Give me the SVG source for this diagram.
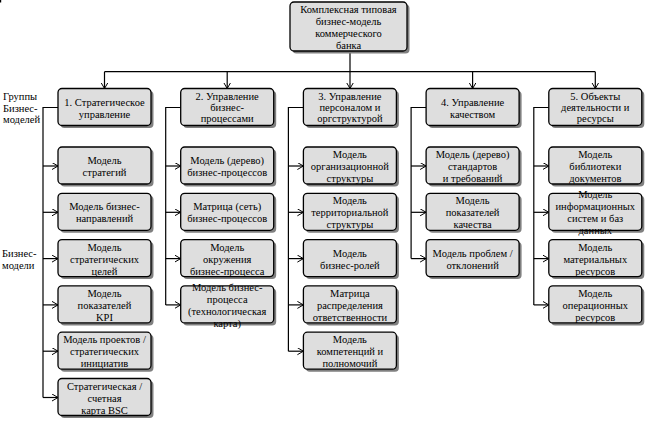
<svg xmlns="http://www.w3.org/2000/svg" width="646" height="422" viewBox="0 0 646 422" font-family="'Liberation Serif', 'DejaVu Serif', serif" font-size="10.5">
<style>
.sh{fill:#808080}
.bx{fill:#dedede;stroke:#000;stroke-width:1.3}
text{fill:#000}
.c{text-anchor:middle}
.ln{fill:none;stroke:#000;stroke-width:1.2}
</style>
<defs>
<marker id="a" markerWidth="8" markerHeight="8" refX="6" refY="3.5" orient="auto" markerUnits="userSpaceOnUse"><path d="M0,0 L6,3.5 L0,7" fill="none" stroke="#000" stroke-width="1"/></marker>
<symbol id="b" viewBox="0 0 96 40" width="96" height="40" overflow="visible"><rect class="sh" x="2.5" y="2.5" width="93" height="37" rx="4"/><rect class="bx" x="0" y="0" width="93" height="37" rx="4"/></symbol>
</defs>
<rect x="0" y="0" width="1.2" height="2.5" fill="#000"/>
<g id="connectors">
<path class="ln" d="M350,51 V71.7 M104.5,71.7 H595.3"/>
<path class="ln" marker-end="url(#a)" d="M104.5,71.7 V88.5"/>
<path class="ln" marker-end="url(#a)" d="M227.2,71.7 V88.5"/>
<path class="ln" marker-end="url(#a)" d="M350,71.7 V88.5"/>
<path class="ln" marker-end="url(#a)" d="M472.6,71.7 V88.5"/>
<path class="ln" marker-end="url(#a)" d="M595.3,71.7 V88.5"/>
<path class="ln" d="M58,107.5 H43 V397.5"/>
<path class="ln" marker-end="url(#a)" d="M43,166 H58"/>
<path class="ln" marker-end="url(#a)" d="M43,212.3 H58"/>
<path class="ln" marker-end="url(#a)" d="M43,258.6 H58"/>
<path class="ln" marker-end="url(#a)" d="M43,304.9 H58"/>
<path class="ln" marker-end="url(#a)" d="M43,351.2 H58"/>
<path class="ln" marker-end="url(#a)" d="M43,397.5 H58"/>
<path class="ln" d="M180.7,107.5 H165.7 V304.9"/>
<path class="ln" marker-end="url(#a)" d="M165.7,166 H180.7"/>
<path class="ln" marker-end="url(#a)" d="M165.7,212.3 H180.7"/>
<path class="ln" marker-end="url(#a)" d="M165.7,258.6 H180.7"/>
<path class="ln" marker-end="url(#a)" d="M165.7,304.9 H180.7"/>
<path class="ln" d="M303.4,107.5 H288.4 V351.2"/>
<path class="ln" marker-end="url(#a)" d="M288.4,166 H303.4"/>
<path class="ln" marker-end="url(#a)" d="M288.4,212.3 H303.4"/>
<path class="ln" marker-end="url(#a)" d="M288.4,258.6 H303.4"/>
<path class="ln" marker-end="url(#a)" d="M288.4,304.9 H303.4"/>
<path class="ln" marker-end="url(#a)" d="M288.4,351.2 H303.4"/>
<path class="ln" d="M426.1,107.5 H411.1 V258.6"/>
<path class="ln" marker-end="url(#a)" d="M411.1,166 H426.1"/>
<path class="ln" marker-end="url(#a)" d="M411.1,212.3 H426.1"/>
<path class="ln" marker-end="url(#a)" d="M411.1,258.6 H426.1"/>
<path class="ln" d="M548.8,107.5 H533.8 V304.9"/>
<path class="ln" marker-end="url(#a)" d="M533.8,166 H548.8"/>
<path class="ln" marker-end="url(#a)" d="M533.8,212.3 H548.8"/>
<path class="ln" marker-end="url(#a)" d="M533.8,258.6 H548.8"/>
<path class="ln" marker-end="url(#a)" d="M533.8,304.9 H548.8"/>
</g>
<g id="labels">
<text x="3" y="100">Группы</text>
<text x="3" y="111.5">Бизнес-</text>
<text x="3" y="122.5">моделей</text>
<text x="2" y="257">Бизнес-</text>
<text x="2" y="268.5">модели</text>
</g>
<g id="root">
<rect class="sh" x="292.5" y="4.5" width="117" height="49" rx="4"/>
<rect class="bx" x="290" y="2" width="117" height="49" rx="4"/>
<text class="c" x="348.5" y="12.5">Комплексная типовая</text>
<text class="c" x="348.5" y="24.5">бизнес-модель</text>
<text class="c" x="348.5" y="36.5">коммерческого</text>
<text class="c" x="348.5" y="48.5">банка</text>
</g>
<g id="g1"><use href="#b" x="58" y="88.5"/><text class="c" x="104.5" y="105.5">1. Стратегическое</text><text class="c" x="104.5" y="117.5">управление</text></g>
<g id="g2"><use href="#b" x="180.7" y="88.5"/><text class="c" x="227.2" y="100">2. Управление</text><text class="c" x="227.2" y="111">бизнес-</text><text class="c" x="227.2" y="122">процессами</text></g>
<g id="g3"><use href="#b" x="303.4" y="88.5"/><text class="c" x="349.9" y="100">3. Управление</text><text class="c" x="349.9" y="111">персоналом и</text><text class="c" x="349.9" y="122">оргструктурой</text></g>
<g id="g4"><use href="#b" x="426.1" y="88.5"/><text class="c" x="472.6" y="105.5">4. Управление</text><text class="c" x="472.6" y="117.5">качеством</text></g>
<g id="g5"><use href="#b" x="548.8" y="88.5"/><text class="c" x="595.3" y="100">5. Объекты</text><text class="c" x="595.3" y="111">деятельности и</text><text class="c" x="595.3" y="122">ресурсы</text></g>

<g id="m1-1"><use href="#b" x="58" y="147"/><text class="c" x="104.5" y="164">Модель</text><text class="c" x="104.5" y="176">стратегий</text></g>
<g id="m1-2"><use href="#b" x="58" y="193.3"/><text class="c" x="104.5" y="210.3">Модель бизнес-</text><text class="c" x="104.5" y="222.3">направлений</text></g>
<g id="m1-3"><use href="#b" x="58" y="239.6"/><text class="c" x="104.5" y="250.6">Модель</text><text class="c" x="104.5" y="262.6">стратегических</text><text class="c" x="104.5" y="274.6">целей</text></g>
<g id="m1-4"><use href="#b" x="58" y="285.9"/><text class="c" x="104.5" y="296.9">Модель</text><text class="c" x="104.5" y="308.9">показателей</text><text class="c" x="104.5" y="320.9">KPI</text></g>
<g id="m1-5"><use href="#b" x="58" y="332.2"/><text class="c" x="104.5" y="343.2">Модель проектов /</text><text class="c" x="104.5" y="355.2">стратегических</text><text class="c" x="104.5" y="367.2">инициатив</text></g>
<g id="m1-6"><use href="#b" x="58" y="378.5"/><text class="c" x="104.5" y="389.5">Стратегическая /</text><text class="c" x="104.5" y="401.5">счетная</text><text class="c" x="104.5" y="413.5">карта BSC</text></g>

<g id="m2-1"><use href="#b" x="180.7" y="147"/><text class="c" x="227.2" y="164">Модель (дерево)</text><text class="c" x="227.2" y="176">бизнес-процессов</text></g>
<g id="m2-2"><use href="#b" x="180.7" y="193.3"/><text class="c" x="227.2" y="210.3">Матрица (сеть)</text><text class="c" x="227.2" y="222.3">бизнес-процессов</text></g>
<g id="m2-3"><use href="#b" x="180.7" y="239.6"/><text class="c" x="227.2" y="250.6">Модель</text><text class="c" x="227.2" y="262.6">окружения</text><text class="c" x="227.2" y="274.6">бизнес-процесса</text></g>
<g id="m2-4"><use href="#b" x="180.7" y="285.9"/><text class="c" x="227.2" y="290.9">Модель бизнес-</text><text class="c" x="227.2" y="302.9">процесса</text><text class="c" x="227.2" y="314.9">(технологическая</text><text class="c" x="227.2" y="326.9">карта)</text></g>

<g id="m3-1"><use href="#b" x="303.4" y="147"/><text class="c" x="349.9" y="158">Модель</text><text class="c" x="349.9" y="170">организационной</text><text class="c" x="349.9" y="182">структуры</text></g>
<g id="m3-2"><use href="#b" x="303.4" y="193.3"/><text class="c" x="349.9" y="204.3">Модель</text><text class="c" x="349.9" y="216.3">территориальной</text><text class="c" x="349.9" y="228.3">структуры</text></g>
<g id="m3-3"><use href="#b" x="303.4" y="239.6"/><text class="c" x="349.9" y="256.6">Модель</text><text class="c" x="349.9" y="268.6">бизнес-ролей</text></g>
<g id="m3-4"><use href="#b" x="303.4" y="285.9"/><text class="c" x="349.9" y="296.9">Матрица</text><text class="c" x="349.9" y="308.9">распределения</text><text class="c" x="349.9" y="320.9">ответственности</text></g>
<g id="m3-5"><use href="#b" x="303.4" y="332.2"/><text class="c" x="349.9" y="343.2">Модель</text><text class="c" x="349.9" y="355.2">компетенций и</text><text class="c" x="349.9" y="367.2">полномочий</text></g>

<g id="m4-1"><use href="#b" x="426.1" y="147"/><text class="c" x="472.6" y="158">Модель (дерево)</text><text class="c" x="472.6" y="170">стандартов</text><text class="c" x="472.6" y="182">и требований</text></g>
<g id="m4-2"><use href="#b" x="426.1" y="193.3"/><text class="c" x="472.6" y="204.3">Модель</text><text class="c" x="472.6" y="216.3">показателей</text><text class="c" x="472.6" y="228.3">качества</text></g>
<g id="m4-3"><use href="#b" x="426.1" y="239.6"/><text class="c" x="472.6" y="256.6">Модель проблем /</text><text class="c" x="472.6" y="268.6">отклонений</text></g>

<g id="m5-1"><use href="#b" x="548.8" y="147"/><text class="c" x="595.3" y="158">Модель</text><text class="c" x="595.3" y="170">библиотеки</text><text class="c" x="595.3" y="182">документов</text></g>
<g id="m5-2"><use href="#b" x="548.8" y="193.3"/><text class="c" x="595.3" y="198.3">Модель</text><text class="c" x="595.3" y="210.3">информационных</text><text class="c" x="595.3" y="222.3">систем и баз</text><text class="c" x="595.3" y="234.3">данных</text></g>
<g id="m5-3"><use href="#b" x="548.8" y="239.6"/><text class="c" x="595.3" y="250.6">Модель</text><text class="c" x="595.3" y="262.6">материальных</text><text class="c" x="595.3" y="274.6">ресурсов</text></g>
<g id="m5-4"><use href="#b" x="548.8" y="285.9"/><text class="c" x="595.3" y="296.9">Модель</text><text class="c" x="595.3" y="308.9">операционных</text><text class="c" x="595.3" y="320.9">ресурсов</text></g>
</svg>
